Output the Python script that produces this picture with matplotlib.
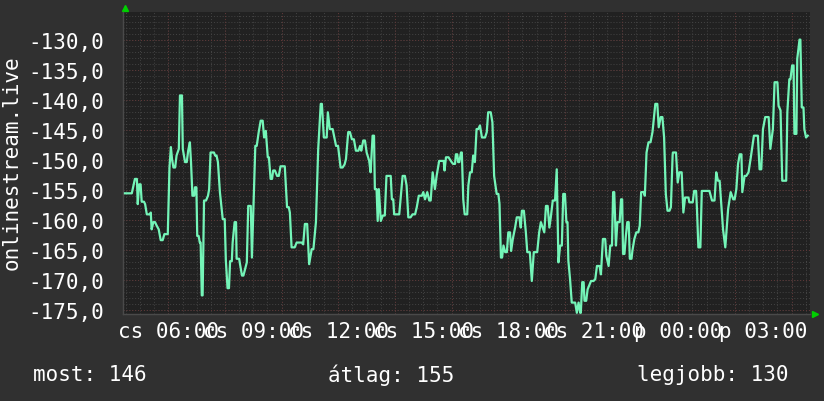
import matplotlib
matplotlib.use("Agg")
import matplotlib.pyplot as plt
from matplotlib.ticker import FixedLocator, MultipleLocator

# ── data ──────────────────────────────────────────────────────────────────────
# hours since midnight of day 1 (values > 24 belong to the next day)
hours = [
    4.47, 4.71, 4.82, 4.89, 4.92, 4.97, 5.02, 5.06, 5.14, 5.18, 5.24, 5.35, 5.38, 5.41, 5.47,
    5.53, 5.59, 5.66, 5.73, 5.80, 5.86, 5.98, 6.04, 6.09, 6.13, 6.18, 6.24, 6.29, 6.37, 6.41,
    6.48, 6.51, 6.59, 6.65, 6.70, 6.76, 6.80, 6.85, 6.91, 6.94, 6.99, 7.02, 7.07, 7.11, 7.14,
    7.18, 7.21, 7.26, 7.33, 7.40, 7.44, 7.49, 7.61, 7.65, 7.70, 7.75, 7.82, 7.92, 7.99, 8.03,
    8.09, 8.14, 8.18, 8.24, 8.27, 8.34, 8.39, 8.41, 8.50, 8.53, 8.60, 8.65, 8.71, 8.77, 8.82,
    8.91, 8.95, 9.07, 9.12, 9.19, 9.26, 9.33, 9.38, 9.44, 9.51, 9.55, 9.61, 9.66, 9.70, 9.76,
    9.84, 9.90, 9.96, 10.11, 10.19, 10.25, 10.29, 10.35, 10.46, 10.53, 10.71, 10.76, 10.82, 10.90, 10.97,
    11.06, 11.12, 11.21, 11.29, 11.38, 11.42, 11.49, 11.59, 11.63, 11.70, 11.80, 11.92, 11.99, 12.08, 12.15,
    12.22, 12.27, 12.35, 12.41, 12.48, 12.55, 12.62, 12.71, 12.77, 12.81, 12.88, 12.94, 13.00, 13.09, 13.14,
    13.21, 13.26, 13.29, 13.35, 13.39, 13.43, 13.50, 13.57, 13.64, 13.70, 13.85, 13.89, 13.94, 13.97, 14.15,
    14.27, 14.35, 14.41, 14.47, 14.55, 14.62, 14.71, 14.77, 14.84, 14.95, 15.00, 15.06, 15.14, 15.21, 15.26,
    15.33, 15.41, 15.47, 15.56, 15.72, 15.75, 15.80, 15.89, 16.00, 16.05, 16.12, 16.15, 16.20, 16.23, 16.27,
    16.33, 16.36, 16.41, 16.46, 16.55, 16.59, 16.65, 16.71, 16.76, 16.82, 16.88, 16.94, 17.00, 17.07, 17.18,
    17.24, 17.29, 17.38, 17.44, 17.50, 17.59, 17.65, 17.69, 17.74, 17.78, 17.83, 17.89, 17.95, 18.00, 18.06,
    18.10, 18.16, 18.24, 18.30, 18.39, 18.44, 18.48, 18.55, 18.62, 18.67, 18.76, 18.83, 18.90, 19.02, 19.09,
    19.15, 19.27, 19.33, 19.39, 19.45, 19.50, 19.57, 19.65, 19.71, 19.77, 19.83, 19.89, 19.94, 20.00, 20.05,
    20.09, 20.12, 20.18, 20.24, 20.36, 20.42, 20.48, 20.54, 20.56, 20.61, 20.66, 20.69, 20.75, 20.80, 20.92,
    21.01, 21.07, 21.13, 21.22, 21.27, 21.34, 21.42, 21.46, 21.54, 21.60, 21.66, 21.70, 21.74, 21.80, 21.85,
    21.93, 21.98, 22.02, 22.05, 22.10, 22.15, 22.20, 22.25, 22.29, 22.35, 22.38, 22.45, 22.52, 22.59, 22.64,
    22.69, 22.78, 22.82, 22.88, 22.95, 23.02, 23.09, 23.19, 23.26, 23.31, 23.38, 23.44, 23.50, 23.56, 23.62,
    23.69, 23.74, 23.80, 23.81, 23.92, 23.98, 24.04, 24.12, 24.18, 24.24, 24.36, 24.39, 24.51, 24.56, 24.63,
    24.66, 24.71, 24.78, 24.83, 25.10, 25.19, 25.28, 25.34, 25.40, 25.46, 25.58, 25.66, 25.76, 25.85, 25.94,
    25.99, 26.05, 26.11, 26.17, 26.23, 26.26, 26.34, 26.40, 26.48, 26.57, 26.67, 26.81, 26.87, 26.93, 26.99,
    27.07, 27.19, 27.25, 27.34, 27.40, 27.50, 27.54, 27.61, 27.67, 27.81, 27.85, 27.92, 27.96, 28.02, 28.07,
    28.10, 28.17, 28.20, 28.28, 28.31, 28.36, 28.42, 28.45, 28.51, 28.57,
]
values = [
    -155.6, -155.6, -153.2, -153.2, -157.4, -154.1, -154.1, -157.0, -157.0, -157.4, -159.1, -159.1, -158.8, -161.6, -160.4,
    -160.4, -161.0, -161.6, -163.4, -163.4, -162.4, -162.4, -151.3, -147.9, -149.9, -151.3, -151.3, -149.3, -148.2, -139.3,
    -139.3, -148.2, -150.4, -150.4, -148.5, -147.1, -150.4, -156.0, -156.0, -154.6, -154.6, -162.7, -162.7, -163.8, -163.8,
    -172.6, -172.6, -156.8, -156.8, -156.0, -154.9, -148.8, -148.8, -149.3, -149.3, -150.4, -155.4, -159.9, -159.9, -166.8,
    -171.4, -171.4, -166.9, -166.9, -163.8, -160.4, -160.4, -166.5, -166.5, -167.4, -169.3, -169.3, -168.2, -167.1, -157.7,
    -157.7, -166.3, -147.7, -147.7, -145.4, -143.5, -143.5, -146.3, -145.2, -149.6, -149.6, -153.2, -153.2, -151.8, -151.8,
    -152.7, -152.7, -151.1, -151.1, -157.9, -157.9, -158.8, -164.6, -164.6, -163.8, -163.8, -164.1, -160.7, -160.7, -167.4,
    -164.9, -164.9, -160.4, -148.2, -140.7, -140.7, -146.3, -146.3, -142.1, -144.9, -144.9, -147.7, -147.7, -151.3, -151.3,
    -150.8, -149.9, -145.4, -145.4, -146.6, -146.6, -148.5, -148.5, -147.7, -148.5, -146.8, -146.8, -148.8, -150.2, -152.1,
    -146.0, -146.0, -154.9, -154.9, -160.2, -154.9, -160.2, -159.3, -159.3, -152.7, -152.7, -156.6, -156.6, -159.1, -159.1,
    -152.7, -152.7, -154.3, -159.6, -159.6, -159.1, -159.1, -157.9, -156.0, -156.0, -155.4, -156.6, -155.4, -156.8, -156.8,
    -152.1, -154.9, -152.7, -150.2, -150.2, -151.8, -149.6, -149.6, -150.4, -150.7, -150.7, -149.1, -149.1, -150.4, -150.4,
    -148.8, -148.8, -156.6, -159.1, -159.1, -154.3, -152.1, -152.1, -149.3, -150.4, -144.9, -144.9, -144.3, -146.3, -146.3,
    -145.4, -142.1, -142.1, -143.8, -152.7, -155.7, -155.7, -157.4, -166.3, -166.3, -164.3, -165.4, -165.4, -162.1, -162.1,
    -165.2, -163.2, -161.3, -159.6, -159.6, -161.3, -158.5, -158.5, -162.1, -165.4, -165.4, -170.2, -165.4, -165.4, -162.1,
    -160.4, -162.1, -157.7, -157.7, -161.3, -159.6, -156.8, -156.8, -151.6, -167.1, -164.3, -164.3, -155.7, -155.7, -160.4,
    -160.4, -166.8, -169.9, -173.8, -173.8, -175.5, -173.8, -175.5, -175.5, -170.4, -170.4, -173.5, -173.5, -171.6, -170.2,
    -170.2, -169.9, -167.7, -167.7, -169.1, -163.2, -163.2, -166.0, -167.7, -164.3, -164.3, -155.4, -155.4, -164.3, -160.4,
    -160.4, -156.6, -156.6, -165.7, -165.7, -162.7, -160.4, -160.4, -166.5, -166.5, -165.2, -163.2, -162.1, -162.1, -161.0,
    -155.4, -155.4, -156.0, -148.8, -147.1, -147.1, -145.4, -140.7, -140.7, -144.6, -142.9, -142.9, -146.3, -155.7, -158.5,
    -158.5, -157.9, -149.3, -148.8, -148.8, -153.8, -152.1, -152.1, -158.8, -156.3, -156.3, -157.1, -157.1, -155.2, -155.2,
    -158.2, -164.6, -164.6, -155.2, -155.2, -156.8, -156.8, -152.1, -153.5, -153.5, -161.6, -164.6, -158.2, -155.4, -156.6,
    -156.6, -154.9, -150.7, -149.1, -149.1, -155.4, -152.7, -152.7, -152.1, -149.3, -146.0, -146.0, -151.6, -151.6, -144.9,
    -142.9, -142.9, -148.2, -144.9, -137.1, -137.1, -141.0, -141.8, -153.5, -153.5, -142.1, -136.6, -136.6, -134.3, -134.3,
    -145.7, -145.7, -133.2, -130.0, -130.0, -141.3, -141.3, -144.9, -146.3, -146.0,
]

time_ticks = [6, 9, 12, 15, 18, 21, 24, 27]
time_labels = ["cs 06:00", "cs 09:00", "cs 12:00", "cs 15:00",
               "cs 18:00", "cs 21:00", "p 00:00", "p 03:00"]
y_ticks = [-175, -170, -165, -160, -155, -150, -145, -140, -135, -130]

series_name = "onlinestream.live"
stat_labels = ["most", "átlag", "legjobb"]
stat_values = [146, 155, 130]

# ── style ─────────────────────────────────────────────────────────────────────
BG = "#303030"
PLOT_BG = "#212121"
MINOR = "#444444"
MAJOR = "#603636"
LINE = "#74f5b8"
FONT = "DejaVu Sans Mono"
FS = 15

fig = plt.figure(figsize=(8.24, 4.02), dpi=100)
fig.patch.set_facecolor(BG)
ax = fig.add_axes([123.3 / 824, 87 / 402, (810 - 123.3) / 824, (315 - 13) / 402])
ax.set_facecolor(PLOT_BG)

ax.set_xlim(4.41, 28.65)
ax.set_ylim(-175.7, -125.4)

# grid: minor every 30 min / 1 unit, major every 2 h / 5 units
ax.xaxis.set_minor_locator(MultipleLocator(0.5))
ax.yaxis.set_minor_locator(MultipleLocator(1))
ax.xaxis.set_major_locator(FixedLocator(time_ticks))
ax.yaxis.set_major_locator(FixedLocator(y_ticks))
ax.set_xticklabels(time_labels)
ax.set_yticklabels([f"{v:.1f}".replace(".", ",") for v in y_ticks])

dots = (0, (1, 2))
for h in [x * 0.5 for x in range(9, 58)]:
    ax.axvline(h, color=MINOR, lw=0.7, ls=dots, zorder=1)
for v in range(-175, -125):
    ax.axhline(v, color=MINOR, lw=0.7, ls=dots, zorder=1)
for h in range(6, 29, 2):
    ax.axvline(h, color=MAJOR, lw=0.7, ls=dots, zorder=1.5)
for v in y_ticks:
    ax.axhline(v, color=MAJOR, lw=0.7, ls=dots, zorder=1.5)

ax.plot(hours, values, color=LINE, lw=1.6, zorder=3)

ax.tick_params(which="both", length=0, colors="white", labelsize=FS)
ax.tick_params(axis="y", pad=14)
ax.tick_params(axis="x", pad=5)
for lab in ax.get_xticklabels() + ax.get_yticklabels():
    lab.set_family(FONT)

for s in ["top", "right"]:
    ax.spines[s].set_visible(False)
for s in ["left", "bottom"]:
    ax.spines[s].set_color("#4a4a4a")
    ax.spines[s].set_linewidth(1)

# green axis arrows
ax.plot([0.003], [1.012], marker="^", color="#00d000", ms=4, transform=ax.transAxes, clip_on=False)
ax.plot([1.008], [0.0], marker=">", color="#00d000", ms=4, transform=ax.transAxes, clip_on=False)

fig.text(12 / 824, 1 - 163 / 402, series_name, rotation=90, ha="center", va="center",
         color="white", fontsize=FS, family=FONT)

stat_x = [33, 328, 637]
for x, name, val in zip(stat_x, stat_labels, stat_values):
    fig.text(x / 824, 1 - 375 / 402, f"{name}: {val}", ha="left", va="center",
             color="white", fontsize=FS, family=FONT)

fig.savefig("out.png", dpi=100, facecolor=BG)
